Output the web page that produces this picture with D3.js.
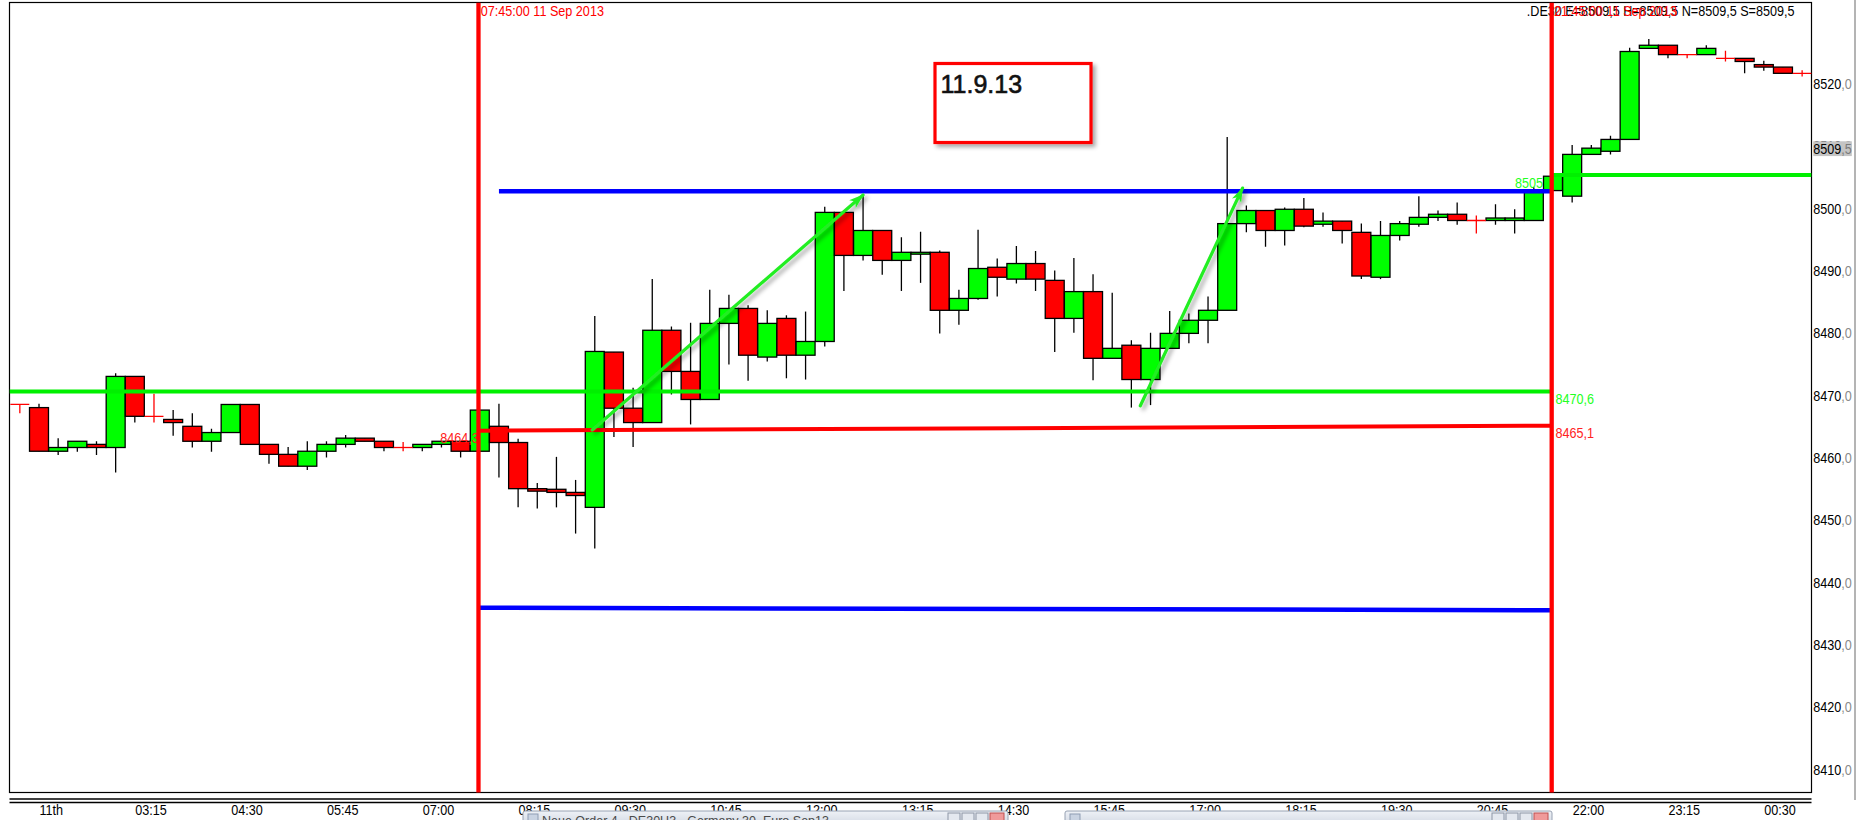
<!DOCTYPE html>
<html><head><meta charset="utf-8">
<script src="https://cdn.jsdelivr.net/npm/d3@7"></script>
<style>html,body{margin:0;padding:0;background:#fff;overflow:hidden}</style>
</head><body><svg id="c" width="1857" height="820"></svg>
<script>
// ---------------- DATA ----------------
const times = ["01:45","02:00","02:15","02:30","02:45","03:00","03:15","03:30","03:45","04:00",
"04:15","04:30","04:45","05:00","05:15","05:30","05:45","06:00","06:15","06:30",
"06:45","07:00","07:15","07:30","07:45","08:00","08:15","08:30","08:45","09:00",
"09:15","09:30","09:45","10:00","10:15","10:30","10:45","11:00","11:15","11:30",
"11:45","12:00","12:15","12:30","12:45","13:00","13:15","13:30","13:45","14:00",
"14:15","14:30","14:45","15:00","15:15","15:30","15:45","16:00","16:15","16:30",
"16:45","17:00","17:15","17:30","17:45","18:00","18:15","18:30","18:45","19:00",
"19:15","19:30","19:45","20:00","20:15","20:30","20:45","21:00","21:15","21:30",
"21:45","22:00","22:15","22:30","22:45","23:00","23:15","23:30","23:45","00:00",
"00:15","00:30","00:45","01:00"];
const opens = [8468.5,8468.0,8461.0,8461.6,8462.1,8461.6,8473.0,8466.6,8466.1,8465.0,
8462.6,8464.0,8468.5,8462.1,8460.5,8458.6,8461.0,8462.1,8463.1,8462.6,
8461.6,8461.6,8462.1,8462.6,8461.0,8465.0,8462.4,8455.0,8454.9,8454.4,
8452.0,8476.9,8467.9,8465.6,8480.4,8473.8,8469.3,8481.5,8483.9,8476.1,
8482.3,8476.4,8478.6,8499.3,8492.4,8496.4,8491.6,8492.6,8492.9,8483.6,
8485.5,8490.5,8488.6,8491.1,8488.4,8482.3,8486.6,8475.9,8478.0,8472.5,
8477.5,8479.9,8482.0,8483.6,8497.5,8499.6,8496.4,8499.8,8497.4,8497.9,
8496.1,8488.9,8495.6,8497.4,8498.5,8499.0,8498.0,8498.0,8498.0,8498.0,
8502.8,8501.9,8508.6,8509.1,8511.0,8525.6,8526.1,8524.6,8524.6,8524.0,
8524.0,8523.0,8522.6,8521.6];
const highs = [8468.5,8468.6,8463.1,8462.6,8462.6,8473.5,8473.0,8470.2,8467.6,8467.1,
8464.6,8468.5,8468.5,8462.1,8461.7,8462.6,8462.6,8463.6,8463.1,8462.6,
8462.5,8462.1,8462.6,8462.6,8467.6,8468.6,8463.0,8455.9,8460.1,8456.4,
8482.7,8476.9,8471.2,8488.6,8481.0,8481.6,8486.9,8486.1,8484.4,8483.6,
8482.8,8483.4,8500.2,8499.3,8502.1,8496.4,8495.3,8496.2,8493.2,8486.9,
8496.5,8491.9,8493.9,8493.1,8490.0,8492.0,8489.4,8486.4,8478.8,8480.0,
8483.5,8483.1,8485.8,8511.4,8500.4,8499.6,8500.1,8501.6,8499.3,8497.9,
8497.5,8497.9,8497.9,8501.9,8499.6,8500.9,8498.8,8500.6,8499.8,8503.3,
8505.1,8510.1,8510.1,8511.6,8525.7,8527.1,8526.1,8524.6,8526.1,8525.2,
8524.0,8523.6,8522.6,8522.1];
const lows = [8467.1,8461.0,8460.4,8460.9,8460.4,8457.6,8465.6,8465.6,8463.5,8461.6,
8460.9,8464.0,8462.1,8459.0,8458.6,8458.0,8460.0,8461.6,8462.6,8461.0,
8461.0,8461.0,8461.6,8460.0,8461.0,8456.8,8452.0,8451.8,8452.0,8447.8,
8445.4,8463.3,8461.7,8465.6,8470.1,8465.3,8469.3,8474.9,8472.3,8475.4,
8472.7,8472.5,8477.8,8486.7,8491.6,8489.3,8486.7,8488.0,8479.9,8481.3,
8485.3,8485.8,8487.9,8486.7,8476.9,8480.0,8472.4,8475.9,8468.0,8468.4,
8477.5,8478.3,8478.3,8483.6,8496.1,8493.8,8494.0,8496.9,8497.0,8494.3,
8488.6,8488.6,8494.8,8497.0,8497.9,8497.3,8495.9,8497.3,8495.9,8498.0,
8502.8,8500.9,8508.6,8508.6,8511.0,8525.6,8524.0,8524.0,8524.6,8523.5,
8521.6,8522.0,8521.6,8521.1];
const closes = [8468.5,8461.0,8461.6,8462.6,8461.6,8473.0,8466.6,8466.6,8465.6,8462.6,
8464.0,8468.5,8462.1,8460.5,8458.6,8461.0,8462.1,8463.1,8462.6,8461.6,
8461.6,8462.1,8462.6,8461.0,8467.6,8462.4,8455.0,8454.6,8454.4,8453.9,
8477.0,8467.9,8465.6,8480.4,8473.8,8469.3,8481.5,8483.9,8476.4,8481.5,
8476.4,8478.6,8499.3,8492.4,8496.4,8491.6,8492.9,8492.9,8483.6,8485.5,
8490.3,8488.9,8491.1,8488.6,8482.3,8486.6,8475.9,8477.5,8472.5,8477.5,
8479.9,8482.0,8483.6,8497.5,8499.6,8496.4,8499.8,8497.1,8497.9,8496.4,
8489.1,8495.6,8497.5,8498.5,8499.0,8498.0,8498.0,8498.4,8498.4,8502.5,
8505.1,8508.6,8509.6,8511.0,8525.1,8526.1,8524.6,8524.6,8525.6,8524.0,
8523.5,8522.6,8521.6,8521.6];

const xTickTimes  = ["02:00","03:15","04:30","05:45","07:00","08:15","09:30","10:45","12:00","13:15","14:30","15:45","17:00","18:15","19:30","20:45","22:00","23:15","00:30"];
const xTickLabels = ["11th","03:15","04:30","05:45","07:00","08:15","09:30","10:45","12:00","13:15","14:30","15:45","17:00","18:15","19:30","20:45","22:00","23:15","00:30"];
const yTicks = [8410,8420,8430,8440,8450,8460,8470,8480,8490,8500,8510,8520];
const lastPrice = 8509.5;

// session markers (vertical red lines)
const sessionTimes = ["07:45","21:45"];
const sessionLabels = ["07:45:00 11 Sep 2013","21:45:00 11 Sep 2013"];
// level lines: [startTime, startValue, endTime, endValue]
const greenLow  = 8470.6;
const greenHigh = 8505.3;
const redLevel  = ["07:45", 8464.3, "21:45", 8465.1];
const blueTop   = ["08:00", 8502.7, "21:45", 8502.7];
const blueBot   = ["07:45", 8435.9, "21:45", 8435.5];
// trend arrows: [startTime, startValue, endTime, endValue]
const arrows = [["09:13", 8464.4, "12:45", 8502.1], ["16:22", 8468.3, "17:42", 8503.2]];
const statusText = ".DE30 E=8509,5 H=8509,5 N=8509,5 S=8509,5";
const noteText = "11.9.13";

// ---------------- SETUP ----------------
function parseSeq(arr){
  let day = 11, prev = -1;
  return arr.map(s => {
    const [h,m] = s.split(":").map(Number);
    const mins = h*60+m;
    if (mins < prev) day++;
    prev = mins;
    return new Date(2013, 8, day, h, m);
  });
}
function parseOne(s){ return parseSeq([s])[0]; }

const svg = d3.select("#c");
const FONT = "'Liberation Sans', Arial, sans-serif";
const SX = 0.87;
const plot = {l:9.5, t:2.5, r:1811.5, b:792.5};

const x = d3.scaleTime()
  .domain([new Date(2013,8,11,2,0), new Date(2013,8,12,0,30)])
  .range([39, 1763.8]);
const step = x(new Date(2013,8,11,2,15)) - x(new Date(2013,8,11,2,0));
const y = d3.scaleLinear().domain([8410, 8520]).range([769.3, 83.3]);

const tDates = parseSeq(times);
const data = tDates.map((t,i) => ({t, o:opens[i], h:highs[i], l:lows[i], c:closes[i]}));
const sDates = sessionTimes.map(parseOne);

const defs = svg.append("defs");
defs.append("clipPath").attr("id","clip").append("rect")
  .attr("x", plot.l).attr("y", plot.t).attr("width", plot.r-plot.l).attr("height", plot.b-plot.t);
const f = defs.append("filter").attr("id","sh").attr("x","-20%").attr("y","-20%").attr("width","150%").attr("height","150%");
f.append("feDropShadow").attr("dx",3).attr("dy",3).attr("stdDeviation",2)
  .attr("flood-color","#000").attr("flood-opacity",0.35);
defs.append("marker").attr("id","ah").attr("viewBox","0 -6 16 12")
  .attr("refX",14).attr("refY",0).attr("markerWidth",16).attr("markerHeight",12)
  .attr("markerUnits","userSpaceOnUse").attr("orient","auto")
  .append("path").attr("d","M0,-5 L15,0 L0,5 L4,0 Z").attr("fill","#22ee22");

function label(g, px, py, str, color, anchor){
  return g.append("text")
    .attr("transform", `translate(${px},${py}) scale(${SX},1)`)
    .attr("text-anchor", anchor || "start")
    .attr("font-family", FONT).attr("font-size", 14.5)
    .attr("fill", color).text(str);
}

// frame
svg.append("rect").attr("x",plot.l).attr("y",plot.t)
  .attr("width",plot.r-plot.l).attr("height",plot.b-plot.t)
  .attr("fill","#fff").attr("stroke","#000").attr("stroke-width",1.2);

const P = svg.append("g").attr("clip-path","url(#clip)");

// label partly hidden under candle
label(P, x(sDates[1]) - 38, y(greenHigh) + 13, "8505,3", "#22ff22");

// wicks
P.append("g").selectAll("line").data(data.filter(d => d.o !== d.c)).join("line")
  .attr("x1", d => x(d.t)).attr("x2", d => x(d.t))
  .attr("y1", d => y(d.h)).attr("y2", d => y(d.l))
  .attr("stroke","#000").attr("stroke-width",1.3);

// bodies
const bw = step - 0.2;
P.append("g").selectAll("rect").data(data.filter(d => d.o !== d.c)).join("rect")
  .attr("x", d => x(d.t) - bw/2).attr("width", bw)
  .attr("y", d => y(Math.max(d.o,d.c)))
  .attr("height", d => Math.max(1, Math.abs(y(d.o)-y(d.c))))
  .attr("fill", d => d.c > d.o ? "#00ff00" : "#ff0000")
  .attr("stroke","#000").attr("stroke-width",1.3);

// doji crosses
const dj = P.append("g").selectAll("g").data(data.filter(d => d.o === d.c)).join("g");
dj.append("line").attr("x1", d => x(d.t)-bw/2).attr("x2", d => x(d.t)+bw/2)
  .attr("y1", d => y(d.o)).attr("y2", d => y(d.o))
  .attr("stroke","#ff0000").attr("stroke-width",1.3);
dj.append("line").attr("x1", d => x(d.t)).attr("x2", d => x(d.t))
  .attr("y1", d => y(d.h)).attr("y2", d => y(d.l))
  .attr("stroke","#ff0000").attr("stroke-width",1.3);

// level lines
function seg(spec, color, w){
  P.append("line")
    .attr("x1", x(parseOne(spec[0]))).attr("y1", y(spec[1]))
    .attr("x2", x(parseOne(spec[2]))).attr("y2", y(spec[3]))
    .attr("stroke", color).attr("stroke-width", w);
}
P.append("line").attr("x1", plot.l).attr("x2", x(sDates[1]))
  .attr("y1", y(greenLow)).attr("y2", y(greenLow))
  .attr("stroke","#00f000").attr("stroke-width",4);
P.append("line").attr("x1", x(sDates[1])).attr("x2", plot.r)
  .attr("y1", y(greenHigh)).attr("y2", y(greenHigh))
  .attr("stroke","#00f000").attr("stroke-width",4);
seg(redLevel, "#ff0000", 4);
seg(blueTop, "#0000ff", 4.5);
seg(blueBot, "#0000ff", 4.5);

// level labels
label(P, x(sDates[0]) - 1, y(redLevel[1]) + 12.6, "8464,3", "#ff2222", "end");
label(P, x(sDates[1]) + 2.5, y(greenLow) + 12.5, "8470,6", "#22ff22");
label(P, x(sDates[1]) + 2.5, y(redLevel[3]) + 12.5, "8465,1", "#ff2222");

// top status texts
label(P, 1526.8, 15.7, statusText, "#000");
sDates.forEach((d,i) => label(P, x(d) + 1, 15.7, sessionLabels[i], "#ff0000"));

// vertical session lines
P.append("g").selectAll("line").data(sDates).join("line")
  .attr("x1", d => x(d) - 1.3).attr("x2", d => x(d) - 1.3)
  .attr("y1", plot.t).attr("y2", plot.b + 1)
  .attr("stroke","#ff0000").attr("stroke-width",4.3);

// note box
const nb = svg.append("g");
nb.append("rect").attr("x",935).attr("y",63.5).attr("width",156).attr("height",79)
  .attr("fill","#fff").attr("stroke","#ff0000").attr("stroke-width",3.2).attr("filter","url(#sh)");
nb.append("text").attr("x",940.5).attr("y",93.3).attr("font-family",FONT)
  .attr("font-size",25).attr("fill","#111").attr("stroke","#111").attr("stroke-width",0.6)
  .text(noteText);

// arrows
svg.append("g").selectAll("line").data(arrows).join("line")
  .attr("x1", d => x(parseOne(d[0]))).attr("y1", d => y(d[1]))
  .attr("x2", d => x(parseOne(d[2]))).attr("y2", d => y(d[3]))
  .attr("stroke","#22ee22").attr("stroke-width",3.2).attr("stroke-linecap","round")
  .attr("marker-end","url(#ah)").attr("filter","url(#sh)");

// x axis
const xAxis = d3.axisBottom(x).tickValues(parseSeq(xTickTimes))
  .tickFormat((d,i) => xTickLabels[i]).tickSize(0).tickPadding(0);
const gx = svg.append("g").attr("transform","translate(0,815)").call(xAxis);
gx.select(".domain").remove();
gx.attr("font-size",14.5).attr("font-family",FONT);
gx.selectAll("text").attr("y",0).attr("dy",0).attr("text-anchor","start")
  .attr("fill","#000").attr("transform",`scale(${SX},1)`);

// y axis
const yAxis = d3.axisRight(y).tickValues(yTicks).tickSize(0).tickPadding(0).tickFormat(() => "");
const gy = svg.append("g").attr("transform",`translate(${plot.r + 1.8},0)`).call(yAxis);
gy.select(".domain").remove();
gy.attr("font-size",14.5).attr("font-family",FONT);
gy.selectAll("text").attr("x",0).attr("dy",0).attr("y",5).attr("transform",`scale(${SX},1)`)
  .each(function(d){
    const t = d3.select(this);
    t.append("tspan").attr("fill","#000").text(String(d));
    t.append("tspan").attr("fill","#8a8a8a").text(",0");
  });
// last price tag
const lp = svg.append("g").attr("transform",`translate(${plot.r + 1.8},${y(lastPrice)})`);
lp.append("rect").attr("x",0).attr("y",-7.5).attr("width",38.5).attr("height",14.8).attr("fill","#c4c4c4");
const lpt = lp.append("text").attr("y",5).attr("transform",`scale(${SX},1)`)
  .attr("font-family",FONT).attr("font-size",14.5);
lpt.append("tspan").attr("fill","#000").text(String(Math.floor(lastPrice)));
lpt.append("tspan").attr("fill","#7a7a7a").text(",5");

// bottom double rule
[799, 802.5].forEach(yy => svg.append("line").attr("x1",plot.l).attr("x2",plot.r)
  .attr("y1",yy).attr("y2",yy).attr("stroke","#000").attr("stroke-width",1.3));

// right window edge
svg.append("line").attr("x1",1855).attr("x2",1855).attr("y1",0).attr("y2",800)
  .attr("stroke","#b4b4b4").attr("stroke-width",2);

// overlapping taskbar windows at bottom
const grad = defs.append("linearGradient").attr("id","tab").attr("x1",0).attr("x2",0).attr("y1",0).attr("y2",1);
grad.append("stop").attr("offset","0%").attr("stop-color","#eef1f6");
grad.append("stop").attr("offset","100%").attr("stop-color","#d6dce6");
function tab(x0, x1, title){
  const g = svg.append("g");
  g.append("rect").attr("x",x0).attr("y",811).attr("width",x1-x0).attr("height",12)
    .attr("rx",2).attr("fill","url(#tab)").attr("stroke","#98a2b3").attr("stroke-width",1);
  g.append("rect").attr("x",x0+5).attr("y",814).attr("width",10).attr("height",8).attr("fill","#c9d3e2").attr("stroke","#8f9db3");
  if (title) g.append("text").attr("x",x0+19).attr("y",825).attr("font-family",FONT)
    .attr("font-size",12.5).attr("fill","#4a4a4a").text(title);
  const bx = [x1-60, x1-46, x1-32];
  bx.forEach(b => g.append("rect").attr("x",b).attr("y",813).attr("width",12).attr("height",9)
    .attr("fill","#e4e8ef").attr("stroke","#8d96a6"));
  g.append("rect").attr("x",x1-18).attr("y",813).attr("width",14).attr("height",9)
    .attr("fill","#f09a9a").attr("stroke","#c05050");
}
tab(523, 1008, "Neue Order 4 - DE30U3 - Germany 30, Euro Sep13");
tab(1065, 1552, "");
</script></body></html>
